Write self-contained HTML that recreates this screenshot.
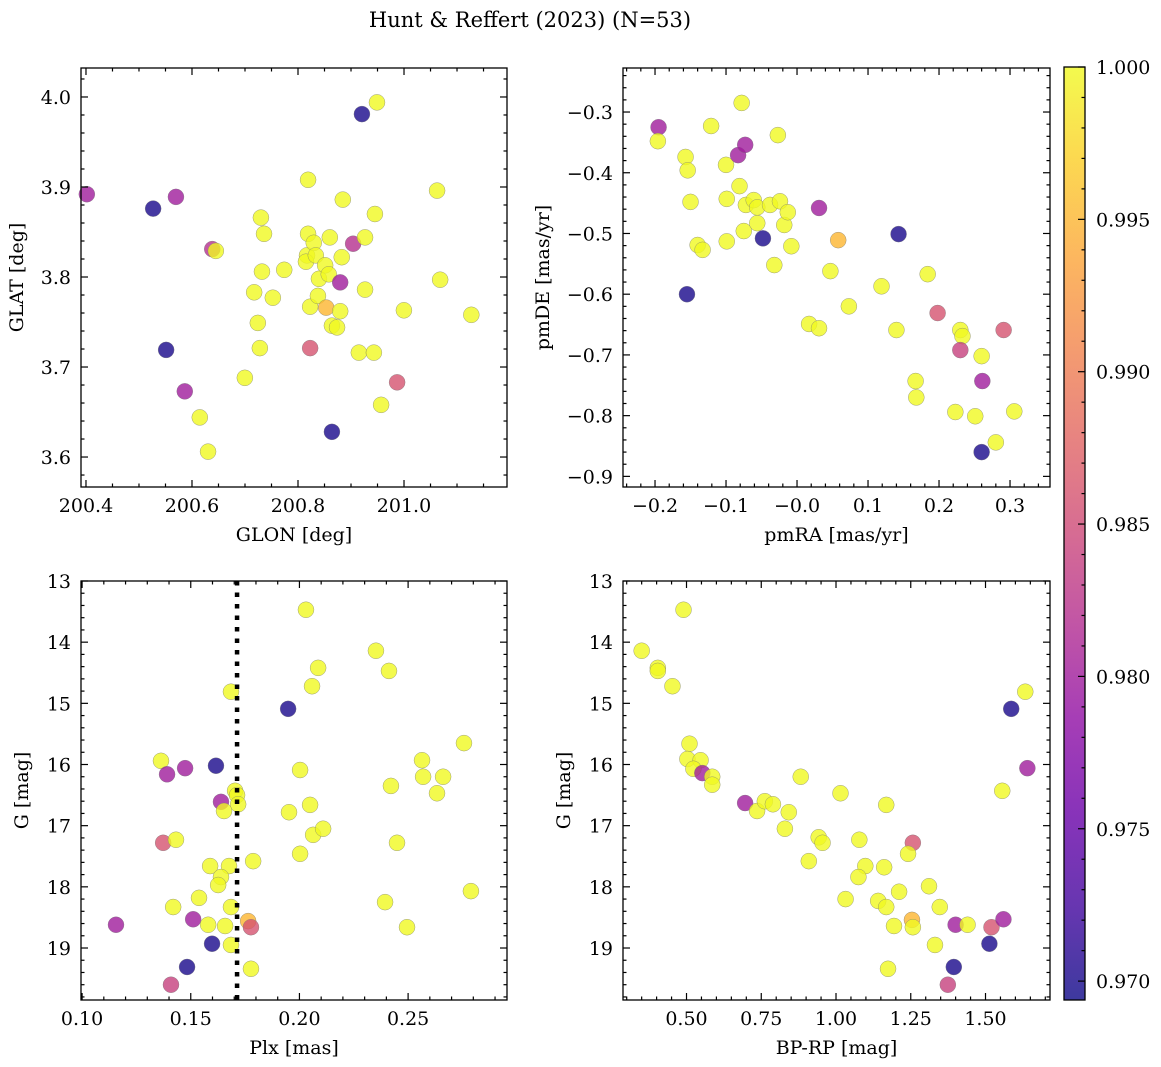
<!DOCTYPE html>
<html><head><meta charset="utf-8">
<style>
html,body{margin:0;padding:0;background:#fff;}
svg{display:block;font-family:"DejaVu Serif","Liberation Serif",serif;}
</style></head>
<body>
<svg id="fig" width="1161" height="1067" viewBox="0 0 1161 1067" xmlns="http://www.w3.org/2000/svg">
<defs>
<linearGradient id="plasma" x1="0" y1="1" x2="0" y2="0">
<stop offset="0" stop-color="#0d0887"/><stop offset="0.1" stop-color="#41049d"/><stop offset="0.2" stop-color="#6a00a8"/><stop offset="0.3" stop-color="#8f0da4"/><stop offset="0.4" stop-color="#b12a90"/><stop offset="0.5" stop-color="#cc4778"/><stop offset="0.6" stop-color="#e16462"/><stop offset="0.7" stop-color="#f2844b"/><stop offset="0.8" stop-color="#fca636"/><stop offset="0.9" stop-color="#fcce25"/><stop offset="1" stop-color="#f0f921"/>
</linearGradient>
</defs>
<text x="530" y="27" font-size="21" text-anchor="middle">Hunt &amp; Reffert (2023) (N=53)</text>
</svg>
<script>
// ---- data ----
const p1Lon=[200.4016,200.5267,200.5697,200.5512,200.5864,200.6147,200.6303,200.6382,200.645,200.6997,200.7173,200.730,200.7359,200.732,200.7242,200.728,200.7525,200.774,200.819,200.819,200.817,200.815,200.8297,200.8336,200.8229,200.8229,200.8395,200.8376,200.8512,200.860,200.858,200.8532,200.864,200.8737,200.8796,200.8796,200.8845,200.8825,200.864,200.904,200.9206,200.9265,200.9265,200.9148,200.949,200.9451,200.9431,200.9568,200.987,200.9998,201.0624,201.0682,201.127];
const p1Lat=[3.892,3.876,3.889,3.719,3.673,3.644,3.606,3.831,3.829,3.688,3.783,3.866,3.848,3.806,3.749,3.721,3.777,3.808,3.908,3.848,3.824,3.817,3.838,3.824,3.767,3.721,3.798,3.779,3.813,3.844,3.803,3.766,3.746,3.744,3.794,3.762,3.886,3.822,3.628,3.837,3.981,3.844,3.786,3.716,3.994,3.870,3.716,3.658,3.683,3.763,3.896,3.797,3.758];
const p1Prob=[0.980,0.970,0.980,0.970,0.980,1,1,0.982,1,1,1,1,1,1,1,1,1,1,1,1,1,1,1,1,1,0.986,1,1,1,1,1,0.995,1,1,0.980,1,1,1,0.970,0.982,0.970,1,1,1,1,1,1,1,0.986,1,1,1,1];

const p2RA=[-0.195,-0.196,-0.157,-0.154,-0.150,-0.121,-0.140,-0.133,-0.155,-0.100,-0.099,-0.099,-0.083,-0.078,-0.081,-0.073,-0.075,-0.072,-0.061,-0.056,-0.056,-0.048,-0.038,-0.027,-0.024,-0.018,-0.013,-0.008,-0.032,0.017,0.031,0.031,0.047,0.058,0.073,0.119,0.140,0.143,0.167,0.168,0.184,0.198,0.223,0.230,0.233,0.230,0.251,0.260,0.261,0.260,0.280,0.291,0.306];
const p2DE=[-0.325,-0.348,-0.374,-0.396,-0.448,-0.323,-0.519,-0.527,-0.600,-0.387,-0.443,-0.513,-0.371,-0.285,-0.422,-0.354,-0.496,-0.453,-0.445,-0.483,-0.457,-0.508,-0.453,-0.338,-0.447,-0.486,-0.465,-0.521,-0.552,-0.649,-0.656,-0.458,-0.562,-0.511,-0.620,-0.587,-0.659,-0.501,-0.743,-0.770,-0.567,-0.631,-0.794,-0.659,-0.669,-0.692,-0.801,-0.702,-0.743,-0.860,-0.844,-0.659,-0.793];
const p2Prob=[0.980,1,1,1,1,1,1,1,0.970,1,1,1,0.980,1,1,0.980,1,1,1,1,1,0.970,1,1,1,1,1,1,1,1,1,0.980,1,0.995,1,1,1,0.970,1,1,1,0.986,1,1,1,0.984,1,1,0.980,0.970,1,0.986,1];

const p3Plx=[0.1156,0.1363,0.1391,0.1474,0.1616,0.1685,0.1704,0.1713,0.1718,0.1639,0.1653,0.1373,0.1432,0.1787,0.1589,0.1676,0.1639,0.1626,0.1538,0.1419,0.1685,0.1511,0.1580,0.1658,0.1764,0.1777,0.1598,0.1685,0.1483,0.1777,0.1409,0.1948,0.1952,0.2003,0.2003,0.2030,0.2049,0.2058,0.2063,0.2086,0.2109,0.2352,0.2394,0.2412,0.2421,0.2449,0.2495,0.2564,0.2569,0.2633,0.2661,0.2757,0.2789];
const p3G=[18.62,15.94,16.16,16.06,16.02,14.81,16.43,16.50,16.65,16.61,16.76,17.28,17.23,17.58,17.66,17.66,17.84,17.97,18.18,18.33,18.33,18.53,18.62,18.64,18.56,18.66,18.93,18.95,19.31,19.34,19.60,15.09,16.78,17.46,16.09,13.47,16.66,14.72,17.15,14.42,17.05,14.14,18.25,14.47,16.35,17.28,18.66,15.93,16.20,16.47,16.20,15.65,18.07];
const p3Prob=[0.980,1,0.980,0.980,0.970,1,1,1,1,0.980,1,0.986,1,1,1,1,1,1,1,1,1,0.980,1,1,0.995,0.986,0.970,1,0.970,1,0.984,0.970,1,1,1,1,1,1,1,1,1,1,1,1,1,1,1,1,1,1,1,1,1];
const plxLimit=[0.1713];

const p4Col=[0.350,0.404,0.404,0.453,0.490,0.510,0.503,0.547,0.523,0.553,0.586,0.586,0.696,0.736,0.762,0.789,0.842,0.829,0.882,1.015,0.942,0.955,1.078,0.909,1.098,1.075,1.161,1.257,1.241,1.211,1.311,1.032,1.141,1.168,1.347,1.194,1.254,1.257,1.400,1.440,1.331,1.520,1.560,1.513,1.394,1.174,1.374,1.556,1.586,1.633,1.640,1.168];
const p4G=[14.14,14.42,14.47,14.72,13.47,15.66,15.91,15.93,16.07,16.14,16.20,16.33,16.63,16.76,16.60,16.65,16.78,17.05,16.20,16.47,17.19,17.28,17.23,17.58,17.66,17.84,17.68,17.28,17.46,18.08,17.99,18.20,18.23,18.33,18.33,18.64,18.54,18.66,18.62,18.62,18.95,18.66,18.53,18.93,19.31,19.34,19.60,16.43,15.09,14.81,16.06,16.66];
const p4Prob=[1,1,1,1,1,1,1,1,1,0.980,1,1,0.980,1,1,1,1,1,1,1,1,1,1,1,1,1,1,0.986,1,1,1,1,1,1,1,1,0.995,1,0.980,1,1,0.986,0.980,0.970,0.970,1,0.984,1,0.970,1,0.980,1];

const cbTicks=[0.970,0.975,0.980,0.985,0.990,0.995,1.000];

// ---- helpers ----
const NS="http://www.w3.org/2000/svg";
const svg=document.getElementById('fig');
function mk(tag,attrs,parent){const e=document.createElementNS(NS,tag);for(const k in attrs)e.setAttribute(k,attrs[k]);(parent||svg).appendChild(e);return e;}
const stops=["#0d0887","#41049d","#6a00a8","#8f0da4","#b12a90","#cc4778","#e16462","#f2844b","#fca636","#fcce25","#f0f921"];
const VMIN=0.96938,VMAX=1.0;
function hex(h){return[parseInt(h.slice(1,3),16),parseInt(h.slice(3,5),16),parseInt(h.slice(5,7),16)];}
function plasma(p){let t=(p-VMIN)/(VMAX-VMIN);t=Math.max(0,Math.min(1,t));const f=t*10,i=Math.min(9,Math.floor(f)),r=f-i;const a=hex(stops[i]),b=hex(stops[i+1]);return 'rgb('+a.map((v,k)=>Math.round(v+(b[k]-v)*r)).join(',')+')';}
function fmt(v,d){let s=v.toFixed(d);if(v<0)s='\u2212'+s.slice(1);return s;}
const FS=19;

function panel(cfg){
  const g=mk('g',{});
  
  
  const {L,T,R,B}=cfg;
  const sx=v=>L+(v-cfg.x0)/(cfg.x1-cfg.x0)*(R-L);
  const sy=cfg.yinv? (v=>T+(v-cfg.y0)/(cfg.y1-cfg.y0)*(B-T)) : (v=>B-(v-cfg.y0)/(cfg.y1-cfg.y0)*(B-T));
  const pts=mk('g',{},g);
  
  
  for(let i=0;i<cfg.xs.length;i++){
    const c=mk('circle',{cx:sx(cfg.xs[i]),cy:sy(cfg.ys[i]),r:8,fill:plasma(cfg.ps[i]),'fill-opacity':0.8,stroke:'#777','stroke-width':0.5,'stroke-opacity':0.7},pts);
    
    
  }
  if(cfg.vline){for(const v of cfg.vline){const l=mk('line',{x1:sx(v),x2:sx(v),y1:T,y2:B,stroke:'#000','stroke-width':4.5,'stroke-dasharray':'4.5 7'},g);
    
    }}
  const tk=mk('g',{stroke:'#000','stroke-width':1.2},g);
  const eps=1e-9;
  const xmin=Math.min(cfg.x0,cfg.x1),xmax=Math.max(cfg.x0,cfg.x1);
  for(let v=Math.ceil(xmin/cfg.xminor-eps)*cfg.xminor;v<=xmax+eps;v+=cfg.xminor){
    const major=Math.abs(v/cfg.xmajor-Math.round(v/cfg.xmajor))<1e-6;const len=major?7:3.5;const x=sx(v);
    mk('line',{x1:x,x2:x,y1:B,y2:B-len},tk);mk('line',{x1:x,x2:x,y1:T,y2:T+len},tk);
    if(major){const t=mk('text',{x:x,y:B+25,'font-size':FS,'text-anchor':'middle',stroke:'none',fill:'#000'},g);t.textContent=fmt(v,cfg.xdec);
      }
  }
  const ymin=Math.min(cfg.y0,cfg.y1),ymax=Math.max(cfg.y0,cfg.y1);
  for(let v=Math.ceil(ymin/cfg.yminor-eps)*cfg.yminor;v<=ymax+eps;v+=cfg.yminor){
    const major=Math.abs(v/cfg.ymajor-Math.round(v/cfg.ymajor))<1e-6;const len=major?7:3.5;const y=sy(v);
    mk('line',{x1:L,x2:L+len,y1:y,y2:y},tk);mk('line',{x1:R,x2:R-len,y1:y,y2:y},tk);
    if(major){const t=mk('text',{x:L-10,y:y+7,'font-size':FS,'text-anchor':'end',stroke:'none',fill:'#000'},g);t.textContent=fmt(v,cfg.ydec);
      }
  }
  const fr=mk('rect',{x:L,y:T,width:R-L,height:B-T,fill:'none',stroke:'#000','stroke-width':1.3},g);
  
  const xl=mk('text',{x:(L+R)/2,y:B+54,'font-size':19,'text-anchor':'middle'},g);xl.textContent=cfg.xlabel;
  
  const yx=L-cfg.ylOff,yy=(T+B)/2;
  const yl=mk('text',{x:yx,y:yy,'font-size':19,'text-anchor':'middle',transform:`rotate(-90 ${yx} ${yy})`},g);yl.textContent=cfg.ylabel;
  
}

panel({name:'glon-glat-panel',L:81,T:68,R:507,B:487,x0:200.3906,x1:201.1943,y0:3.5667,y1:4.0322,xmajor:0.2,xminor:0.05,ymajor:0.1,yminor:0.02,xdec:1,ydec:1,xs:p1Lon,ys:p1Lat,ps:p1Prob,xlabel:'GLON [deg]',ylabel:'GLAT [deg]',ylOff:58});
panel({name:'proper-motion-panel',L:623,T:68,R:1050,B:487,x0:-0.2451,x1:0.3563,y0:-0.9175,y1:-0.2275,xmajor:0.1,xminor:0.02,ymajor:0.1,yminor:0.02,xdec:1,ydec:1,xs:p2RA,ys:p2DE,ps:p2Prob,xlabel:'pmRA [mas/yr]',ylabel:'pmDE [mas/yr]',ylOff:74});
panel({name:'parallax-magnitude-panel',L:81,T:581,R:507,B:1000,x0:0.0995,x1:0.2955,y0:13,y1:19.85,yinv:true,xmajor:0.05,xminor:0.01,ymajor:1,yminor:0.2,xdec:2,ydec:0,xs:p3Plx,ys:p3G,ps:p3Prob,xlabel:'Plx [mas]',ylabel:'G [mag]',ylOff:53,vline:plxLimit});
panel({name:'color-magnitude-panel',L:623,T:581,R:1050,B:1000,x0:0.2876,x1:1.7157,y0:13,y1:19.85,yinv:true,xmajor:0.25,xminor:0.05,ymajor:1,yminor:0.2,xdec:2,ydec:0,xs:p4Col,ys:p4G,ps:p4Prob,xlabel:'BP-RP [mag]',ylabel:'G [mag]',ylOff:53});

// colorbar
(function(){
  const L=1064,R=1085,T=67,B=1000;
  const g=mk('g',{});
  
  
  mk('rect',{x:L,y:T,width:R-L,height:B-T,fill:'url(#plasma)','fill-opacity':0.8},g);
  const sy=v=>B-(v-VMIN)/(VMAX-VMIN)*(B-T);
  for(let k=970;k<=1000;k++){const v=k/1000,y=sy(v),major=k%5===0;
    mk('line',{x1:R,x2:R-(major?7:3.5),y1:y,y2:y,stroke:'#000','stroke-width':1.2},g);}
  for(const v of cbTicks){const t=mk('text',{x:R+11,y:sy(v)+7,'font-size':FS},g);t.textContent=v.toFixed(3);
    }
  mk('rect',{x:L,y:T,width:R-L,height:B-T,fill:'none',stroke:'#000','stroke-width':1.3},g);
})();
</script>
</body></html>
